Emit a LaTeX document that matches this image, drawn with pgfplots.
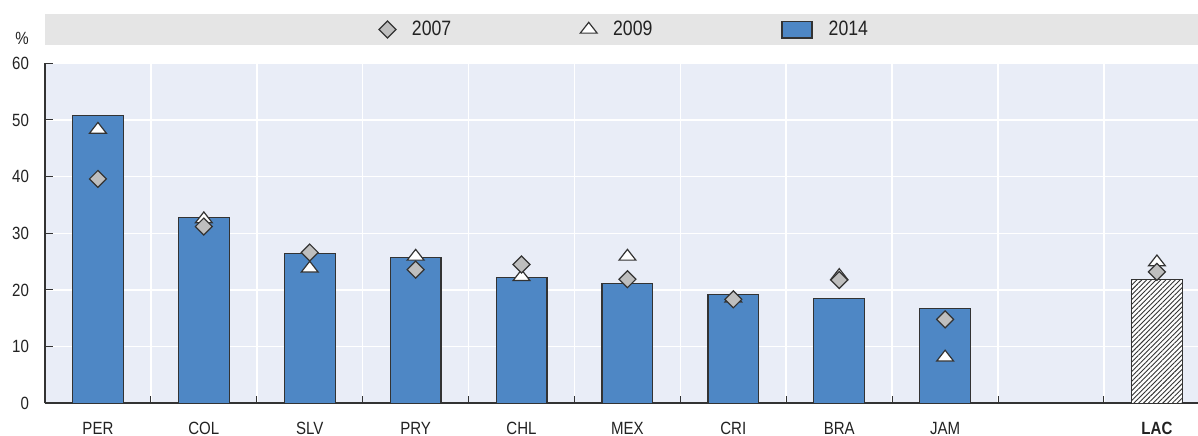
\documentclass[border=0pt]{standalone}
\usepackage{fontspec}
\setmainfont{Liberation Sans}[FakeStretch=0.85]
\usepackage{pgfplots}
\pgfplotsset{compat=1.18}
\usetikzlibrary{patterns.meta}
\definecolor{bgc}{RGB}{233,237,247}
\definecolor{barc}{RGB}{78,135,197}
\definecolor{edge}{RGB}{51,51,51}
\definecolor{diag}{RGB}{190,190,190}
\definecolor{legbg}{RGB}{229,229,229}
\definecolor{txt}{RGB}{34,34,34}
\pgfplotsset{
  legmark/.style={legend image code/.code={\draw[##1] plot coordinates {(7.5pt,0pt)};}},
  legbar/.style={legend image code/.code={\draw[##1] (0pt,-4.2pt) rectangle (15pt,4.2pt);}},
}
\begin{document}
\begin{tikzpicture}
\useasboundingbox (-22.5pt,-16.3pt) rectangle (576.5pt,201.65pt);
\fill[legbg] (0pt,179.15pt) rectangle (576.5pt,194.65pt);
\begin{axis}[
  name=ax,
  at={(0,0)}, anchor=south west,
  scale only axis, width=576.5pt, height=170pt,
  xmin=-0.5, xmax=10.388, ymin=0, ymax=60,
  axis x line*=bottom, axis y line*=left,
  axis line style={draw=edge, line width=0.9pt},
  axis background/.style={fill=bgc},
  tick align=inside,
  ytick={0,10,...,60},
  xtick={0,...,10},
  xticklabels={PER,COL,SLV,PRY,CHL,MEX,CRI,BRA,JAM,,\textbf{LAC}},
  major x tick style={draw=none},
  minor xtick={0.5,1.5,...,9.5},
  minor x tick style={draw=edge, line width=0.5pt},
  minor tick length=3.8pt,
  major tick length=3.8pt,
  y tick style={draw=edge, line width=0.5pt},
  xminorgrids, ymajorgrids,
  minor x grid style={white, line width=0.8pt},
  major y grid style={white, line width=0.8pt},
  /pgf/number format/assume math mode=true,
  tick label style={font=\fontsize{8.85}{10}\selectfont, text=txt},
  yticklabel style={xshift=-4.5pt},
  xticklabel style={yshift=-6pt},
  clip=false,
  legend columns=3,
  legend style={at={(0.5,1)}, anchor=center, yshift=16.9pt, xshift=2pt,
    draw=none, fill=none, font=\fontsize{10.4}{12}\selectfont, text=txt,
    /tikz/every odd column/.append style={column sep=6pt},
    /tikz/every even column/.append style={column sep=62.5pt}},
]
\addlegendimage{legmark, only marks, mark=square*, mark size=3pt, mark options={rotate=45, fill=diag, draw=edge, line width=0.6pt}}
\addlegendentry{2007}
\addlegendimage{legmark, only marks, mark=triangle*, mark size=3.6pt, mark options={xscale=1.35, fill=white, draw=edge, line width=0.6pt}}
\addlegendentry{2009}
\addlegendimage{legbar, fill=barc, draw=edge, line width=0.6pt}
\addlegendentry{2014}

% 2014 bars
\addplot[forget plot, ybar, bar width=0.48, bar shift=0pt, fill=barc, draw=edge, line width=0.6pt]
  coordinates {(0,50.75) (1,32.8) (2,26.5) (3,25.8) (4,22.2) (5,21.2) (6,19.2) (7,18.45) (8,16.7)};
\addplot[forget plot, ybar, bar width=0.48, bar shift=0pt, fill=white, draw=edge, line width=0.6pt,
  postaction={pattern={Lines[angle=45, distance=1.7pt, line width=0.45pt]}, pattern color=edge}]
  coordinates {(10,21.9)};
% 2009 triangles
\addplot[forget plot, only marks, mark=triangle*, mark size=3.6pt,
  mark options={xscale=1.35, fill=white, draw=edge, line width=0.6pt}]
  coordinates {(0,48.3) (1,32.5) (2,23.8) (3,25.9) (4,22.3) (5,25.9) (6,18.5) (7,22.5) (8,8.1) (10,24.9)};
% 2007 diamonds
\addplot[forget plot, only marks, mark=square*, mark size=3pt,
  mark options={rotate=45, fill=diag, draw=edge, line width=0.6pt}]
  coordinates {(0,39.6) (1,31.2) (2,26.6) (3,23.6) (4,24.5) (5,21.9) (6,18.35) (7,21.75) (8,14.8) (10,23.2)};

\node[font=\fontsize{8.85}{10}\selectfont, text=txt] at ([xshift=-11.5pt, yshift=12.6pt]rel axis cs:0,1) {\%};
\end{axis}
\end{tikzpicture}
\end{document}
